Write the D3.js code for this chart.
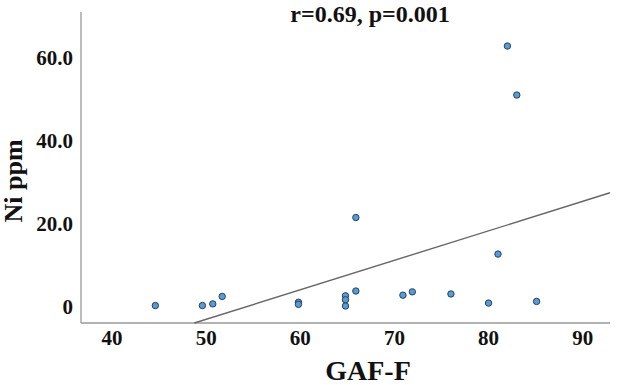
<!DOCTYPE html>
<html>
<head>
<meta charset="utf-8">
<script src="https://cdn.jsdelivr.net/npm/d3@7"></script>
<style>
  body { margin: 0; background: #fff; }
  svg text { font-family: "Liberation Serif", "Times New Roman", serif; font-weight: bold; fill: #111; }
</style>
</head>
<body>
<div id="chart-container"></div>
<script>
// GAF-F score vs Ni ppm
const gafF = [44.6, 49.6, 50.7, 51.7, 59.8, 59.8, 65.9, 64.8, 64.8, 64.8, 65.9, 70.9, 71.9, 76.0, 80.0, 81.0, 85.1, 82.0, 83.0];
const niPpm = [0.3, 0.3, 0.7, 2.5, 1.1, 0.6, 21.5, 2.65, 1.7, 0.2, 3.8, 2.8, 3.6, 3.1, 0.9, 12.7, 1.3, 62.8, 51.0];

const xTicks = [40, 50, 60, 70, 80, 90];
const yTicks = [0, 20, 40, 60];
const yTickLabels = ["0", "20.0", "40.0", "60.0"];

// fit line as printed (y = slope * x + intercept)
const fitSlope = 0.71;
const fitIntercept = -38.5;

const statsLabel = "r=0.69, p=0.001";

const width = 617, height = 385;
const plotLeft = 81, plotRight = 610, plotTop = 12, plotBottom = 323;

const svg = d3.select("#chart-container")
    .append("svg")
    .attr("width", width)
    .attr("height", height);

const x = d3.scaleLinear().domain([36.7, 92.9]).range([plotLeft, plotRight]);
const y = d3.scaleLinear().domain([-3.9, 71]).range([plotBottom, plotTop]);

// axis lines
svg.append("line")
    .attr("x1", plotLeft).attr("x2", plotLeft)
    .attr("y1", plotTop).attr("y2", plotBottom)
    .attr("stroke", "#999").attr("stroke-width", 1.3);
svg.append("line")
    .attr("x1", plotLeft).attr("x2", plotRight)
    .attr("y1", plotBottom).attr("y2", plotBottom)
    .attr("stroke", "#999").attr("stroke-width", 1.3);

// tick labels
svg.append("g")
    .selectAll("text")
    .data(xTicks)
    .join("text")
    .attr("x", d => x(d))
    .attr("y", 345)
    .attr("text-anchor", "middle")
    .attr("font-size", "21px")
    .text(d => d);

svg.append("g")
    .selectAll("text")
    .data(yTicks)
    .join("text")
    .attr("x", 73)
    .attr("y", d => y(d) + 7)
    .attr("text-anchor", "end")
    .attr("font-size", "21px")
    .text((d, i) => yTickLabels[i]);

// regression line, clipped to the plot area
const x0 = Math.max(x.domain()[0], (y.domain()[0] - fitIntercept) / fitSlope);
const x1 = x.domain()[1];
svg.append("line")
    .attr("x1", x(x0)).attr("y1", y(fitSlope * x0 + fitIntercept))
    .attr("x2", x(x1)).attr("y2", y(fitSlope * x1 + fitIntercept))
    .attr("stroke", "#666").attr("stroke-width", 1.4);

// points
svg.append("g")
    .selectAll("circle")
    .data(gafF.map((g, i) => ({g: g, ni: niPpm[i]})))
    .join("circle")
    .attr("cx", d => x(d.g))
    .attr("cy", d => y(d.ni))
    .attr("r", 3.2)
    .attr("fill", "#5b9bd5")
    .attr("stroke", "#24425f")
    .attr("stroke-width", 1);

// annotations
svg.append("text")
    .attr("x", 370).attr("y", 22)
    .attr("text-anchor", "middle")
    .attr("font-size", "24px")
    .text(statsLabel);

svg.append("text")
    .attr("x", 368).attr("y", 380)
    .attr("text-anchor", "middle")
    .attr("font-size", "28px")
    .text("GAF-F");

svg.append("text")
    .attr("transform", "translate(22,181) rotate(-90)")
    .attr("text-anchor", "middle")
    .attr("font-size", "26px")
    .text("Ni ppm");
</script>
</body>
</html>
